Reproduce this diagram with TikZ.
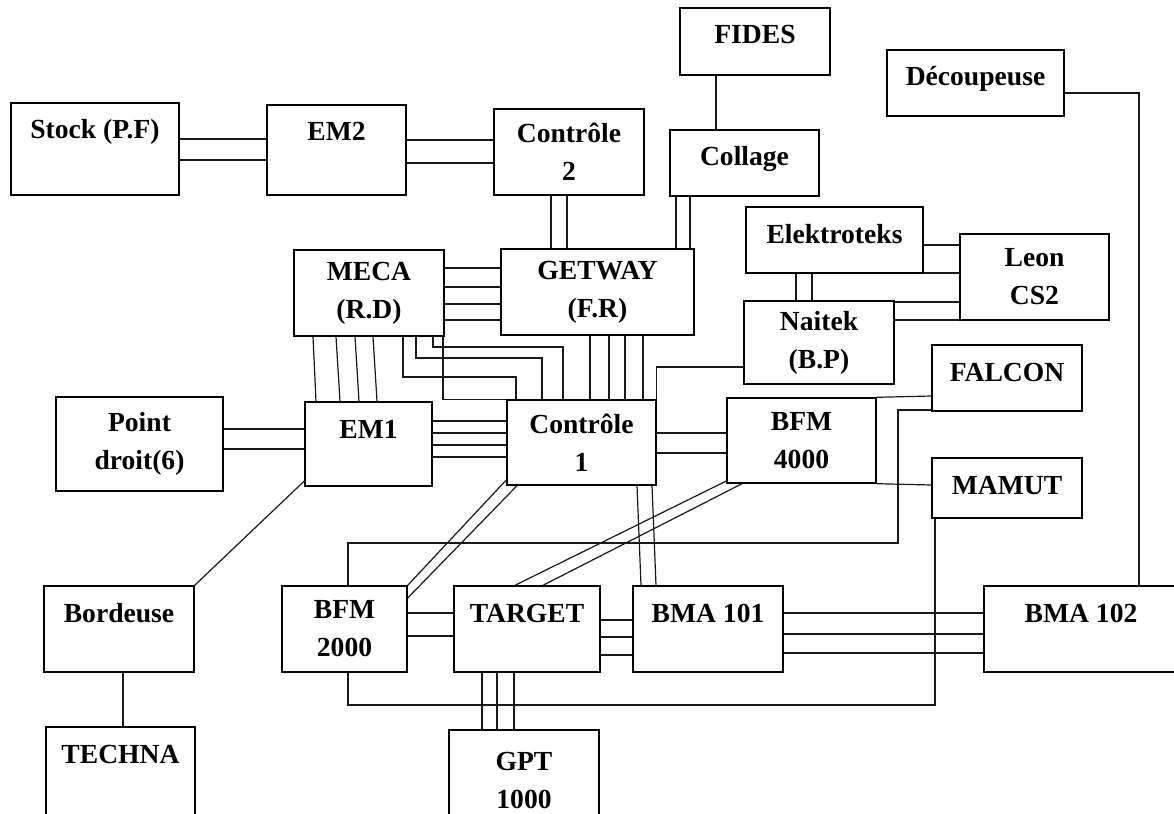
\documentclass[tikz,border=0pt]{standalone}
\usepackage{fontspec}
\setmainfont{Liberation Serif}

\begin{document}
\begin{tikzpicture}[
    x=1pt, y=-1pt,
    unit/.style 2 args={draw, line width=1.4pt, minimum width=#1pt, minimum height=#2pt, align=center, inner sep=2pt, font=\fontsize{27.6}{38}\selectfont\bfseries},
    one/.style={text height=20pt, text depth=#1},
    wire/.style={line width=1.2pt, black!90}
]
\path[use as bounding box, fill=white] (0,0) rectangle (1174,813);

% top part
\node[unit={168}{92}, one=40pt] (STK) at (95,149) {Stock (P.F)};
\node[unit={139}{90}, one=38pt] (EM2) at (336.5,150) {EM2};
\node[unit={150}{86}] (C2) at (569,152) {Contrôle\\2};
\node[unit={150}{67}, one=15pt] (FID) at (755,41.5) {FIDES};
\node[unit={149}{66}, one=14pt] (COL) at (744.5,163) {Collage};
\node[unit={177}{66}, one=14pt] (DEC) at (975.5,83) {Découpeuse};
\node[unit={177}{66}, one=14pt] (ELK) at (834.5,240) {Elektroteks};
\node[unit={149}{86}] (LEO) at (1034.5,277) {Leon\\CS2};
\node[unit={150}{83}] (NAI) at (819,342.5) {Naitek\\(B.P)};
\node[unit={150}{66}, one=14pt] (FAL) at (1007,378) {FALCON};
\node[unit={150}{60}, one=8pt] (MAM) at (1007,488) {MAMUT};
\node[unit={149}{85}] (B4) at (801.5,440.5) {BFM\\4000};
\node[unit={193}{86}] (GET) at (597.5,292) {GETWAY\\(F.R)};
\node[unit={150}{86}] (MEC) at (369,293) {MECA\\(R.D)};
\node[unit={167}{94}] (PD) at (139.5,444) {Point\\droit(6)};
\node[unit={127}{84}, one=32pt] (EM1) at (368.5,444) {EM1};
\node[unit={149}{85}] (C1) at (581.5,442.5) {Contrôle\\1};
% bottom part
\node[unit={150}{86}, one=34pt] (BOR) at (119,629) {Bordeuse};
\node[unit={149}{103}, one=51pt] (TEC) at (120.5,778.5) {TECHNA};
\node[unit={125}{86}] (B2) at (344.5,629) {BFM\\2000};
\node[unit={146}{86}, one=34pt] (TAR) at (527,629) {TARGET};
\node[unit={150}{86}, one=34pt] (BA1) at (708,629) {BMA 101};
\node[unit={194}{86}, one=34pt] (BA2) at (1081,629) {BMA 102};
\node[unit={150}{100}] (GPT) at (524,780) {GPT\\1000};

% links
\foreach \y in {139,160} \draw[wire] (STK.east |- 0,\y) -- (EM2.west |- 0,\y);
\foreach \y in {140,163} \draw[wire] (EM2.east |- 0,\y) -- (C2.west |- 0,\y);
\draw[wire] (FID.south -| 716,0) -- (COL.north -| 716,0);
\foreach \x in {551,567} \draw[wire] (C2.south -| \x,0) -- (GET.north -| \x,0);
\foreach \x in {676,690} \draw[wire] (COL.south -| \x,0) -- (GET.north -| \x,0);
\draw[wire] (DEC.east |- 0,93) -| (BA2.north -| 1139,0);
\foreach \y in {245,273} \draw[wire] (ELK.east |- 0,\y) -- (LEO.west |- 0,\y);
\foreach \x in {796,812} \draw[wire] (ELK.south -| \x,0) -- (NAI.north -| \x,0);
\foreach \y in {302,320} \draw[wire] (NAI.east |- 0,\y) -- (LEO.west |- 0,\y);
\draw[wire] (NAI.west |- 0,367) -| (C1.north east);
\foreach \y in {268,287,304,320} \draw[wire] (MEC.east |- 0,\y) -- (GET.west |- 0,\y);
\foreach \a/\b in {313/316,336/340,355/359,373/377} \draw[wire] (MEC.south -| \a,0) -- (EM1.north -| \b,0);
\foreach \a/\y/\b in {403/377/516,416/358/542,433/347/563} \draw[wire] (MEC.south -| \a,0) |- (\b,\y) -- (C1.north -| \b,0);
\draw[wire] (MEC.south -| 443,0) |- (C1.north west);
\foreach \x in {590,609,625,643} \draw[wire] (GET.south -| \x,0) -- (C1.north -| \x,0);
\foreach \y in {421,433,445,457} \draw[wire] (EM1.east |- 0,\y) -- (C1.west |- 0,\y);
\foreach \y in {429,449} \draw[wire] (PD.east |- 0,\y) -- (EM1.west |- 0,\y);
\draw[wire] (EM1.west |- 0,481) -- (BOR.north east);
\draw[wire] (BOR.south -| 123,0) -- (TEC.north -| 123,0);
\foreach \y in {433,453} \draw[wire] (C1.east |- 0,\y) -- (B4.west |- 0,\y);
\draw[wire] (C1.west |- 0,480) -- (B2.north east);
\draw[wire] (C1.south -| 517,0) -- (B2.east |- 0,598);
\foreach \a/\b in {637/641,652/656} \draw[wire] (C1.south -| \a,0) -- (BA1.north -| \b,0);
\draw[wire] (B4.west |- 0,481) -- (TAR.north -| 515,0);
\draw[wire] (B4.south -| 742,0) -- (TAR.north -| 543,0);
\draw[wire] (B4.north east) -- (FAL.west |- 0,396);
\draw[wire] (FAL.west |- 0,410) -| (898,543) -| (B2.north -| 348,0);
\draw[wire] (B4.south east) -- (MAM.west |- 0,485);
\draw[wire] (MAM.south -| 935,0) |- (348,705) -- (B2.south -| 348,0);
\foreach \y in {613,636} \draw[wire] (B2.east |- 0,\y) -- (TAR.west |- 0,\y);
\foreach \y in {620,637,655} \draw[wire] (TAR.east |- 0,\y) -- (BA1.west |- 0,\y);
\foreach \y in {613,634,653} \draw[wire] (BA1.east |- 0,\y) -- (BA2.west |- 0,\y);
\foreach \x in {482,497,514} \draw[wire] (TAR.south -| \x,0) -- (GPT.north -| \x,0);
\end{tikzpicture}
\end{document}
